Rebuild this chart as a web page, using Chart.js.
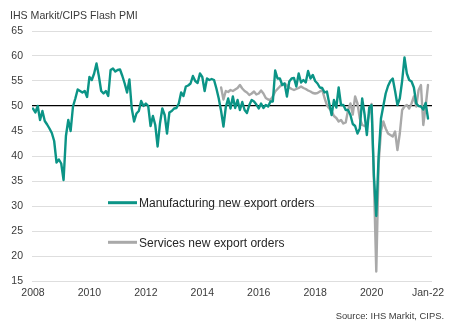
<!DOCTYPE html>
<html>
<head>
<meta charset="utf-8">
<title>IHS Markit/CIPS Flash PMI</title>
<script src="https://cdn.jsdelivr.net/npm/chart.js@4/dist/chart.umd.min.js"></script>
<style>
  html, body { margin: 0; padding: 0; background: #ffffff; }
  #wrap { width: 452px; height: 326px; position: relative; }
</style>
</head>
<body>
<div id="wrap"><canvas id="pmi" width="452" height="326"></canvas></div>
<script>
// Monthly index readings, first value = Jan 2008
const manufacturing = [
  49.5, 48.7, 50.0, 47.2, 49.0, 47.0, 46.3, 45.5, 44.6, 43.0, 38.7, 39.3, // 2008
  38.5, 35.2, 44.0, 47.2, 45.0, 49.9, 51.5, 53.3, 53.0, 52.7, 53.0, 51.8, // 2009
  55.8, 55.2, 56.5, 58.5, 56.0, 53.0, 52.5, 53.0, 52.0, 57.2, 57.5, 56.9, // 2010
  57.2, 57.3, 56.0, 54.5, 52.7, 55.3, 49.5, 46.9, 48.5, 49.0, 51.0, 50.0, // 2011
  50.5, 50.0, 46.0, 48.0, 46.2, 41.9, 46.5, 49.5, 48.2, 44.5, 48.7, 49.0, // 2012
  49.5, 49.6, 50.5, 52.7, 52.0, 53.9, 54.1, 54.5, 56.0, 55.0, 54.6, 56.5, // 2013
  55.8, 53.0, 55.5, 55.2, 55.4, 55.2, 53.5, 51.5, 49.0, 45.9, 49.8, 51.5, // 2014
  49.5, 51.9, 49.6, 51.2, 49.2, 50.8, 49.2, 48.6, 50.2, 51.2, 50.9, 50.3, // 2015
  49.5, 50.5, 49.6, 50.2, 49.9, 50.9, 50.9, 57.1, 55.5, 55.5, 54.2, 54.5, // 2016
  51.9, 54.9, 55.5, 55.6, 53.9, 56.5, 54.7, 55.2, 54.7, 57.0, 55.5, 56.2, // 2017
  55.0, 54.5, 53.7, 53.6, 52.7, 52.9, 50.5, 48.2, 51.2, 49.7, 53.7, 50.2, // 2018
  50.2, 49.2, 49.2, 48.2, 46.4, 46.0, 44.5, 45.5, 51.5, 48.4, 44.2, 49.7, // 2019
  50.2, 36.0, 28.0, 40.0, 47.5, 50.0, 52.5, 54.0, 55.0, 55.5, 53.0, 50.2, // 2020
  51.5, 55.0, 59.7, 56.5, 55.2, 54.9, 53.7, 50.5, 50.0, 49.9, 49.3, 50.6, // 2021
  47.5                                                                    // Jan 2022
];

// Services series begins in Sep 2014 (month 80 counted from Jan 2008)
const servicesStart = 80;
const services = [
  53.7, 51.3, 53.0, 52.8,                                                 // 2014
  53.2, 53.0, 53.3, 53.6, 54.2, 53.5, 53.0, 52.7, 52.2, 52.5, 52.9, 52.3, // 2015
  52.5, 53.1, 52.5, 51.6, 51.3, 51.2, 51.9, 52.9, 53.4, 53.9, 54.3, 54.5, // 2016
  54.1, 53.7, 53.4, 53.2, 53.4, 53.6, 53.9, 53.6, 53.4, 53.1, 52.9, 52.6, // 2017
  52.5, 52.6, 52.9, 53.2, 51.6, 50.2, 49.5, 49.0, 48.0, 47.6, 46.9, 47.2, // 2018
  46.5, 46.7, 49.2, 50.5, 48.3, 51.9, 50.5, 47.5, 46.2, 46.0, 46.3, 48.5, // 2019
  50.4, 35.0, 16.9, 38.5, 45.0, 46.9, 45.5, 44.5, 44.2, 43.9, 44.9, 41.2, // 2020
  44.5, 49.2, 49.9, 50.2, 49.5, 50.5, 51.9, 49.9, 53.2, 54.2, 46.2, 49.9, // 2021
  54.2                                                                    // Jan 2022
];

const seriesNames = ['Manufacturing new export orders', 'Services new export orders'];
const seriesColors = ['#0b9486', '#a9a9a9'];

// Axis labelling (x = months since Jan 2008)
const tickMonths = [0, 24, 48, 72, 96, 120, 144, 168];
const tickLabels = ['2008', '2010', '2012', '2014', '2016', '2018', '2020', 'Jan-22'];
const yMin = 15, yMax = 65, yStep = 5;
const thresholdValue = 50;

const titleText = 'IHS Markit/CIPS Flash PMI';
const sourceText = 'Source: IHS Markit, CIPS.';

const FONT = '"Liberation Sans", Arial, Helvetica, sans-serif';

// Title, source note and the in-plot legend
const annotations = {
  id: 'annotations',
  afterDraw(chart, args, opts) {
    const ctx = chart.ctx;
    ctx.save();
    ctx.textBaseline = 'alphabetic';

    ctx.fillStyle = '#3a3a3a';
    ctx.textAlign = 'left';
    ctx.font = '10.6px ' + FONT;
    ctx.fillText(titleText, 10, 19.3);

    ctx.fillStyle = '#3a3a3a';
    ctx.textAlign = 'right';
    ctx.font = '9.4px ' + FONT;
    ctx.fillText(sourceText, 444, 318.8);

    ctx.textAlign = 'left';
    ctx.font = '12px ' + FONT;
    chart.data.datasets.forEach((ds, i) => {
      const ly = opts.lineY[i];
      ctx.strokeStyle = ds.borderColor;
      ctx.lineWidth = 3;
      ctx.lineCap = 'butt';
      ctx.beginPath();
      ctx.moveTo(opts.x, ly);
      ctx.lineTo(opts.x + opts.lineLen, ly);
      ctx.stroke();
      ctx.fillStyle = '#262626';
      ctx.fillText(ds.label, opts.x + opts.lineLen + 2, opts.textY[i]);
    });
    ctx.restore();
  }
};

new Chart(document.getElementById('pmi'), {
  type: 'line',
  data: {
    datasets: [
      {
        label: seriesNames[0],
        data: manufacturing.map((v, i) => ({ x: i, y: v })),
        borderColor: seriesColors[0],
        backgroundColor: seriesColors[0]
      },
      {
        label: seriesNames[1],
        data: services.map((v, i) => ({ x: servicesStart + i, y: v })),
        borderColor: seriesColors[1],
        backgroundColor: seriesColors[1]
      }
    ]
  },
  options: {
    responsive: false,
    devicePixelRatio: 1,
    animation: false,
    events: [],
    layout: { padding: { left: 0, right: 20, top: 31, bottom: 25 } },
    elements: {
      point: { radius: 0, hoverRadius: 0 },
      line: { borderWidth: 2.4, tension: 0, borderJoinStyle: 'round', borderCapStyle: 'round', fill: false }
    },
    scales: {
      x: {
        type: 'linear',
        min: -0.43,
        max: 169.7,
        grid: { display: false, drawTicks: false },
        border: { display: false },
        afterBuildTicks(scale) {
          scale.ticks = tickMonths.map(v => ({ value: v }));
        },
        afterFit(scale) { scale.height = 20; },
        ticks: {
          autoSkip: false,
          maxRotation: 0,
          padding: 6,
          color: '#3a3a3a',
          font: { family: FONT, size: 10.5 },
          callback: (value) => {
            const k = tickMonths.indexOf(value);
            return k >= 0 ? tickLabels[k] : '';
          }
        }
      },
      y: {
        min: yMin,
        max: yMax,
        afterFit(scale) { scale.width = 32; },
        grid: {
          drawTicks: false,
          color: (c) => (c.tick && c.tick.value === thresholdValue) ? '#000000' : '#dedede',
          lineWidth: (c) => (c.tick && c.tick.value === thresholdValue) ? 1.2 : 1
        },
        border: { display: false },
        ticks: {
          stepSize: yStep,
          padding: 9,
          color: '#3a3a3a',
          font: { family: FONT, size: 10.5 }
        }
      }
    },
    plugins: {
      legend: { display: false },
      tooltip: { enabled: false },
      annotations: { x: 108, lineLen: 29, lineY: [202.7, 242.3], textY: [207.3, 246.6] }
    }
  },
  plugins: [annotations]
});
</script>
</body>
</html>
